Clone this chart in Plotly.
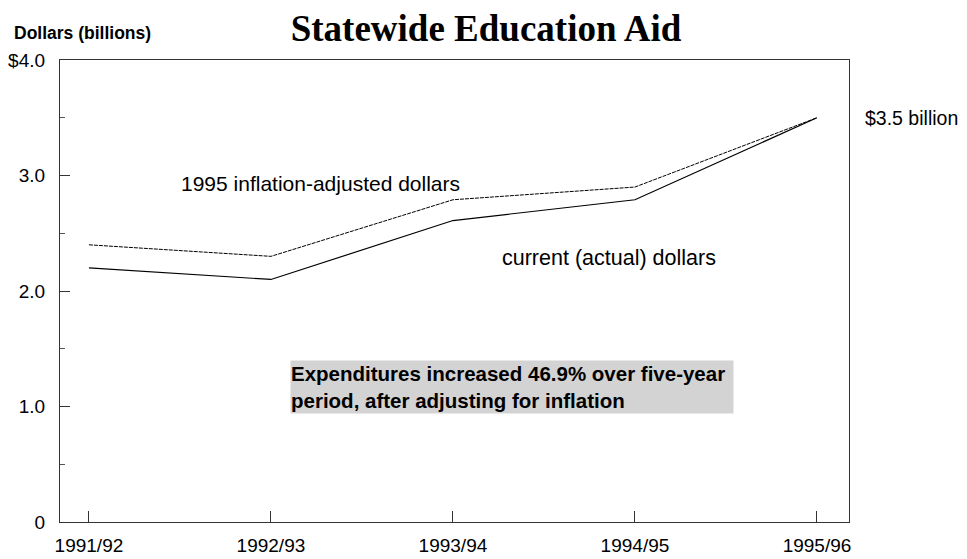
import plotly.graph_objects as go

years = ["1991/92", "1992/93", "1993/94", "1994/95", "1995/96"]
adjusted = [2.40, 2.30, 2.79, 2.90, 3.50]
current = [2.20, 2.10, 2.61, 2.79, 3.50]
ytick_vals = [0, 1, 2, 3, 4]
ytick_text = ["0", "1.0", "2.0", "3.0", "$4.0"]

xidx = list(range(len(years)))

fig = go.Figure()
fig.add_trace(go.Scatter(x=xidx, y=adjusted, mode="lines",
                         line=dict(color="black", width=1, dash="4px,1px"),
                         name="1995 inflation-adjusted dollars", showlegend=False))
fig.add_trace(go.Scatter(x=xidx, y=current, mode="lines",
                         line=dict(color="black", width=1.2),
                         name="current (actual) dollars", showlegend=False))

font_sans = "Liberation Sans, Arial, sans-serif"

# page body has an 8px margin; figure is 959x551 so plot box lands at x 60-849, y 60-522
fig.update_layout(
    width=959, height=551,
    margin=dict(l=52, r=118, t=52, b=37, autoexpand=False),
    paper_bgcolor="white", plot_bgcolor="white",
    font=dict(family=font_sans, size=19, color="black"),
    title=dict(text="<b>Statewide Education Aid</b>", x=(486 - 8) / 959, xanchor="center",
               y=1 - (28 - 8) / 551, yanchor="middle",
               font=dict(family="Liberation Serif, Times New Roman, serif", size=37, color="black")),
    xaxis=dict(range=[-0.159, 4.176], tickvals=xidx, ticktext=years, automargin=False,
               showline=True, linecolor="#333", linewidth=1.2, mirror=True,
               ticks="inside", ticklen=11, tickcolor="#333", ticklabelstandoff=6,
               showgrid=False, zeroline=False, fixedrange=True),
    yaxis=dict(range=[0, 4.0], tickvals=ytick_vals, ticktext=ytick_text, automargin=False,
               showline=True, linecolor="#333", linewidth=1.2, mirror=True,
               ticks="inside", ticklen=10, tickcolor="#333", ticklabelstandoff=10,
               minor=dict(ticks="inside", ticklen=5, dtick=0.5, tickcolor="#555", showgrid=False),
               showgrid=False, zeroline=False, fixedrange=True),
)

fig.add_annotation(text="<b>Dollars (billions)</b>", xref="paper", yref="paper",
                   x=(12 - 60) / 789, y=(522 - 33) / 462,
                   xanchor="left", yanchor="middle", showarrow=False,
                   font=dict(size=17.5, family=font_sans))
fig.add_annotation(text="1995 inflation-adjusted dollars", x=(179 - 89) / 182, y=2.935,
                   xanchor="left", yanchor="middle", showarrow=False, font=dict(size=21))
fig.add_annotation(text="current (actual) dollars", x=(500 - 89) / 182, y=2.286,
                   xanchor="left", yanchor="middle", showarrow=False, font=dict(size=21.5))
fig.add_annotation(text="$3.5 billion", xref="paper", x=(863 - 60) / 789, y=3.5,
                   xanchor="left", yanchor="middle", showarrow=False, font=dict(size=19.5))
fig.add_annotation(text="<b>Expenditures increased 46.9% over five-year<br>period, after adjusting for inflation</b>",
                   x=(290 - 89) / 182, y=1.40, xanchor="left", yanchor="top",
                   width=442, height=52, align="left", valign="middle",
                   bgcolor="#d3d3d3", borderpad=0, showarrow=False,
                   font=dict(size=20.5))

fig.write_html("out.html")
